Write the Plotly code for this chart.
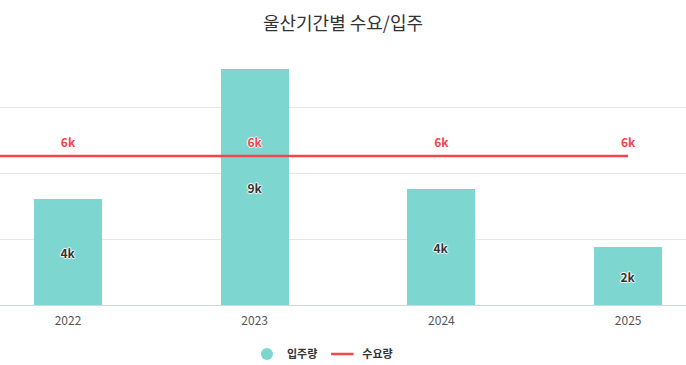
import plotly.graph_objects as go

years = [2022, 2023, 2024, 2025]
year_labels = ["2022", "2023", "2024", "2025"]
supply = [4030, 8970, 4410, 2200]          # 입주량
supply_text = ["4k", "9k", "4k", "2k"]
demand = [5670, 5670, 5670, 5670]          # 수요량
demand_text = ["6k", "6k", "6k", "6k"]

TEAL = "#7dd6cf"
RED = "#f4444e"
FONT = "Noto Sans CJK KR"
OUTLINE_W = "1px 0px 1px #fff, -1px 0px 1px #fff, 0px 1px 1px #fff, 0px -1px 1px #fff"

fig = go.Figure()

fig.add_trace(go.Bar(
    x=years, y=supply, width=0.365, marker=dict(color=TEAL, line=dict(width=0)),
    text=supply_text, textposition="inside", insidetextanchor="middle",
    textfont=dict(family=FONT, size=12, color="#333", weight="bold", shadow=OUTLINE_W),
    showlegend=False, hoverinfo="skip", cliponaxis=False,
))

fig.add_trace(go.Scatter(
    x=years, y=demand, mode="lines", name="수요량",
    line=dict(color=RED, width=2.5), showlegend=False, hoverinfo="skip",
))
fig.add_trace(go.Scatter(
    x=years, y=demand, mode="markers+text", text=demand_text, textposition="top center",
    marker=dict(size=8, opacity=0),
    textfont=dict(family=FONT, size=12, color=RED, weight="bold", shadow=OUTLINE_W),
    showlegend=False, hoverinfo="skip", cliponaxis=False,
))

# legend entries
fig.add_trace(go.Scatter(x=[None], y=[None], mode="markers", name="입주량",
                         marker=dict(symbol="circle", size=12, color=TEAL)))
fig.add_trace(go.Scatter(x=[None], y=[None], mode="markers", name="수요량",
                         marker=dict(symbol="line-ew-open", size=16, color=RED,
                                     line=dict(color=RED, width=2.5))))

# line continues to left edge of plot
fig.add_shape(type="line", xref="x", yref="y",
              x0=years[0] - 0.364, x1=years[0], y0=demand[0], y1=demand[0],
              line=dict(color=RED, width=2.5), layer="above")

fig.update_layout(
    width=686, height=365,
    margin=dict(l=0, r=0, t=60, b=60, autoexpand=False),
    paper_bgcolor="white", plot_bgcolor="white",
    font=dict(family=FONT, color="#333"),
    title=dict(text="울산기간별 수요/입주", x=0.5, xanchor="center", y=0.935, yanchor="middle",
               font=dict(family=FONT, size=18, color="#333")),
    xaxis=dict(range=[years[0] - 0.364, years[-1] + 0.310], tickvals=years, ticktext=year_labels,
               showgrid=False, zeroline=False, showline=True, linecolor="#ccd6eb", linewidth=1,
               ticks="", ticklabelstandoff=5, tickfont=dict(family=FONT, size=12, color="#555")),
    yaxis=dict(range=[0, 9320], tickvals=[0, 2500, 5000, 7500], showticklabels=False,
               showgrid=True, gridcolor="#e6e6e6", gridwidth=1, zeroline=False, showline=False),
    legend=dict(orientation="h", x=0.47, xanchor="center", y=-0.2, yanchor="middle",
                font=dict(family=FONT, size=11, color="#333", weight="bold"),
                itemwidth=30, tracegroupgap=0),
    bargap=0,
)

fig.write_html("out.html", config={"displayModeBar": False},
               post_script="document.body.style.margin='0';document.body.style.overflow='hidden';")
